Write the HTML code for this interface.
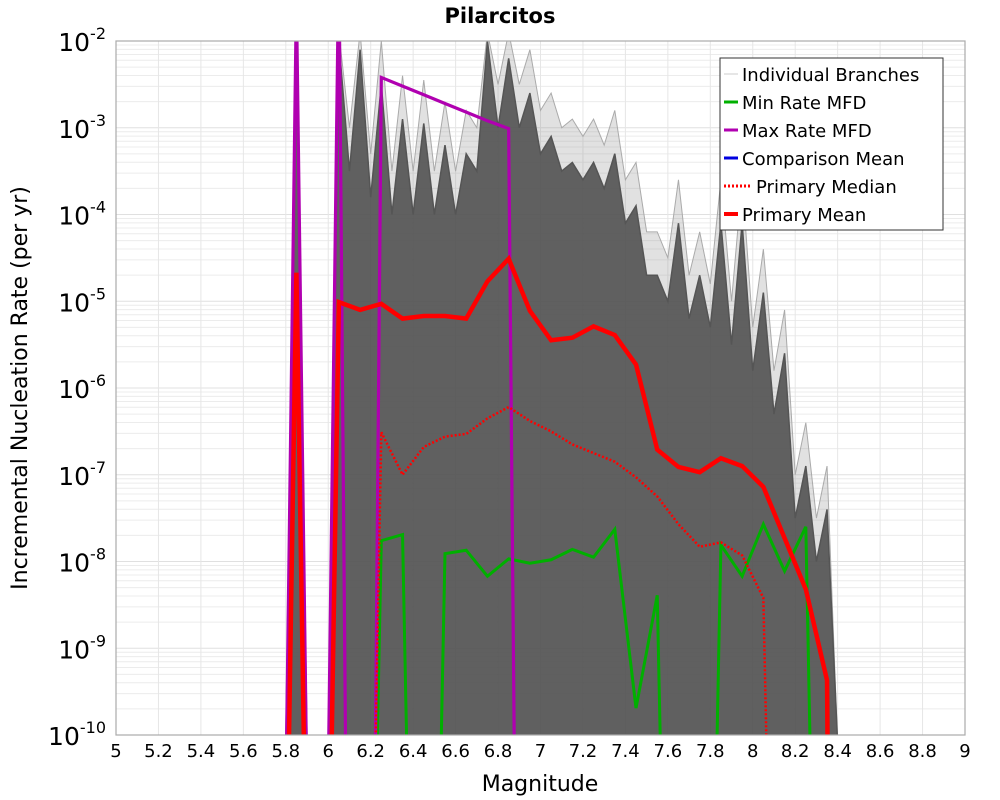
<!DOCTYPE html>
<html><head><meta charset="utf-8"><style>
html,body{margin:0;padding:0;background:#fff;overflow:hidden;}
svg{display:block;}
svg text{font-family:"DejaVu Sans","Liberation Sans",sans-serif;}
</style></head><body>
<svg id="chart" width="1000" height="800" viewBox="0 0 1000 800" xmlns="http://www.w3.org/2000/svg">
<defs><clipPath id="pc"><rect x="116" y="41" width="849" height="694"/></clipPath></defs>
<rect x="0" y="0" width="1000" height="800" fill="#fff"/>
<text x="500" y="23" font-size="21" font-weight="bold" text-anchor="middle">Pilarcitos</text>
<g id="grid"></g>
<g id="branches" clip-path="url(#pc)"></g>
<g id="series" clip-path="url(#pc)"></g>
<rect x="116" y="41" width="849" height="694" fill="none" stroke="#aaa" stroke-width="1.2"/>
<g id="axes"></g>
<text x="540" y="791" font-size="22" text-anchor="middle">Magnitude</text>
<text transform="translate(27,388) rotate(-90)" font-size="22" text-anchor="middle">Incremental Nucleation Rate (per yr)</text>
<g>
<rect x="720" y="58" width="223" height="172" fill="#fff" stroke="#333" stroke-width="1"/>
<line x1="724" y1="74" x2="738" y2="74" stroke="#ccc" stroke-width="1"/>
<text x="742" y="81" font-size="18">Individual Branches</text>
<line x1="724" y1="102" x2="738" y2="102" stroke="#00b000" stroke-width="3"/>
<text x="742" y="109" font-size="18">Min Rate MFD</text>
<line x1="724" y1="130" x2="738" y2="130" stroke="#b000b0" stroke-width="3"/>
<text x="742" y="137" font-size="18">Max Rate MFD</text>
<line x1="724" y1="158" x2="738" y2="158" stroke="#0000e0" stroke-width="3"/>
<text x="742" y="165" font-size="18">Comparison Mean</text>
<line x1="724" y1="186" x2="752" y2="186" stroke="#f00" stroke-width="3" stroke-dasharray="2,2"/>
<text x="756" y="193" font-size="18">Primary Median</text>
<line x1="724" y1="214" x2="738" y2="214" stroke="#f00" stroke-width="4"/>
<text x="742" y="221" font-size="18">Primary Mean</text>
</g>
</svg>
<script>
const NS="http://www.w3.org/2000/svg";
const xTicks=["5","5.2","5.4","5.6","5.8","6","6.2","6.4","6.6","6.8","7","7.2","7.4","7.6","7.8","8","8.2","8.4","8.6","8.8","9"];
const yExps=[-2,-3,-4,-5,-6,-7,-8,-9,-10];
const mags=[5.75,5.85,5.95,6.05,6.15,6.25,6.35,6.45,6.55,6.65,6.75,6.85,6.95,7.05,7.15,7.25,7.35,7.45,7.55,7.65,7.75,7.85,7.95,8.05,8.15,8.25,8.35,8.45];
// log10 rates; -20 = zero
const meanVals=[-20,-4.67,-20,-5.01,-5.1,-5.03,-5.2,-5.17,-5.17,-5.2,-4.77,-4.51,-5.11,-5.45,-5.42,-5.29,-5.39,-5.73,-6.71,-6.91,-6.97,-6.81,-6.9,-7.14,-7.73,-8.32,-9.37,-40];
const medianVals=[-20,-20,-20,-20,-20,-6.51,-7.0,-6.68,-6.56,-6.53,-6.35,-6.22,-6.38,-6.5,-6.65,-6.75,-6.85,-7.03,-7.25,-7.57,-7.83,-7.78,-7.93,-8.42,-20,-20,-20,-20];
const minVals=[-20,-20,-20,-20,-20,-7.76,-7.69,-20,-7.91,-7.87,-8.17,-7.97,-8.02,-7.98,-7.86,-7.95,-7.63,-9.69,-8.39,-20,-20,-7.81,-8.17,-7.57,-8.11,-7.6,-20,-20];
const maxVals=[-20,-1.5,-20,-1.0,-30,-2.42,-2.52,-2.62,-2.72,-2.82,-2.92,-3.01,-30,-30,-30,-30,-30,-30,-30,-30,-30,-30,-30,-30,-30,-30,-30,-30];
// gray branch envelope: magnitude, log rate
const envMags=[5.8,5.85,5.9,6.0,6.05,6.1,6.15,6.2,6.25,6.3,6.35,6.4,6.45,6.5,6.55,6.6,6.65,6.7,6.75,6.8,6.85,6.9,6.95,7.0,7.05,7.1,7.15,7.2,7.25,7.3,7.35,7.4,7.45,7.5,7.55,7.6,7.65,7.7,7.75,7.8,7.85,7.9,7.95,8.0,8.05,8.1,8.15,8.2,8.25,8.3,8.35,8.4];
const envVals=[-10,-2,-10,-10,-2,-3.5,-2.1,-3.8,-2.5,-4.0,-2.9,-4.0,-2.95,-4.0,-3.2,-4.0,-3.3,-3.5,-2.0,-3.0,-2.2,-3.0,-2.6,-3.3,-3.1,-3.5,-3.4,-3.6,-3.4,-3.7,-3.3,-4.1,-3.9,-4.7,-4.7,-5.0,-4.1,-5.2,-4.7,-5.3,-4.1,-5.5,-4.1,-5.8,-4.9,-6.3,-5.6,-7.5,-6.9,-8.0,-7.4,-10];
const X=m=>116+(m-5)*212.25;
const Y=e=>41+(-2-e)*86.75;
const LO=-10.2, HI=-1.9;
function el(tag,attrs,parent){const e=document.createElementNS(NS,tag);for(const k in attrs)e.setAttribute(k,attrs[k]);parent.appendChild(e);return e;}
const grid=document.getElementById('grid'),axes=document.getElementById('axes');
for(let d=-10;d<-2;d++){for(let k=2;k<=9;k++){const y=Y(d+Math.log10(k));const l=el('line',{x1:116,x2:965,y1:y,y2:y,stroke:'#ececec','stroke-width':1},grid);}}
yExps.forEach(e=>{const y=Y(e);const l=el('line',{x1:116,x2:965,y1:y,y2:y,stroke:'#e0e0e0','stroke-width':1},grid);
const t=el('text',{x:106,y:y+10,'font-size':25,'text-anchor':'end'},axes);
t.textContent='10';const s=el('tspan',{dy:-12,'font-size':16},t);s.textContent=String(e);});
xTicks.forEach(s=>{const x=X(parseFloat(s));const l=el('line',{x1:x,x2:x,y1:41,y2:735,stroke:'#e6e6e6','stroke-width':1},grid);
const t=el('text',{x:x,y:757,'font-size':18,'text-anchor':'middle'},axes);t.textContent=s;});
const br=document.getElementById('branches');
function envPath(off){let d='M'+X(envMags[0])+','+Y(-10);envMags.forEach((m,i)=>{const v=envVals[i]<=-10?-10.1:envVals[i]+off;d+=' L'+X(m)+','+Y(Math.min(v,HI));});d+=' L'+X(envMags[envMags.length-1])+','+Y(-10.1)+' Z';return d;}
const lp=el('path',{d:envPath(0.5),fill:'#888','fill-opacity':0.25,stroke:'#aaa','stroke-width':1},br);

const dp=el('path',{d:envPath(0),fill:'#555','fill-opacity':0.92,stroke:'#555','stroke-width':1.5},br);

// clip segments to [LO,HI] in log space
function clipPath(vals){let d='';let pen=false;
for(let i=0;i<mags.length-1;i++){let m0=mags[i],v0=vals[i],m1=mags[i+1],v1=vals[i+1];
let t0=0,t1=1;const dv=v1-v0;
const lim=(p,q)=>{if(p===0)return q>=0;const r=q/p;if(p<0){if(r>t1)return false;if(r>t0)t0=r;}else{if(r<t0)return false;if(r<t1)t1=r;}return true;};
if(!lim(-dv,v0-LO)||!lim(dv,HI-v0)){pen=false;continue;}
const a=[m0+(m1-m0)*t0,v0+dv*t0],b=[m0+(m1-m0)*t1,v0+dv*t1];
if(!pen||t0>0)d+='M'+X(a[0]).toFixed(2)+','+Y(a[1]).toFixed(2);
d+=' L'+X(b[0]).toFixed(2)+','+Y(b[1]).toFixed(2)+' ';pen=t1>=1;}
return d;}
const ser=document.getElementById('series');
function line(vals,color,w,dash,name){const a={d:clipPath(vals),fill:'none',stroke:color,'stroke-width':w,'stroke-linejoin':'miter'};if(dash)a['stroke-dasharray']=dash;const p=el('path',a,ser);}
line(minVals,'#00b000',3,null,'min-rate-mfd-line');
line(maxVals,'#b000b0',3.2,null,'max-rate-mfd-line');
line(medianVals,'#f00',2.5,'2,2','primary-median-line');
line(meanVals,'#f00',4.5,null,'primary-mean-line');
</script>
</body></html>
